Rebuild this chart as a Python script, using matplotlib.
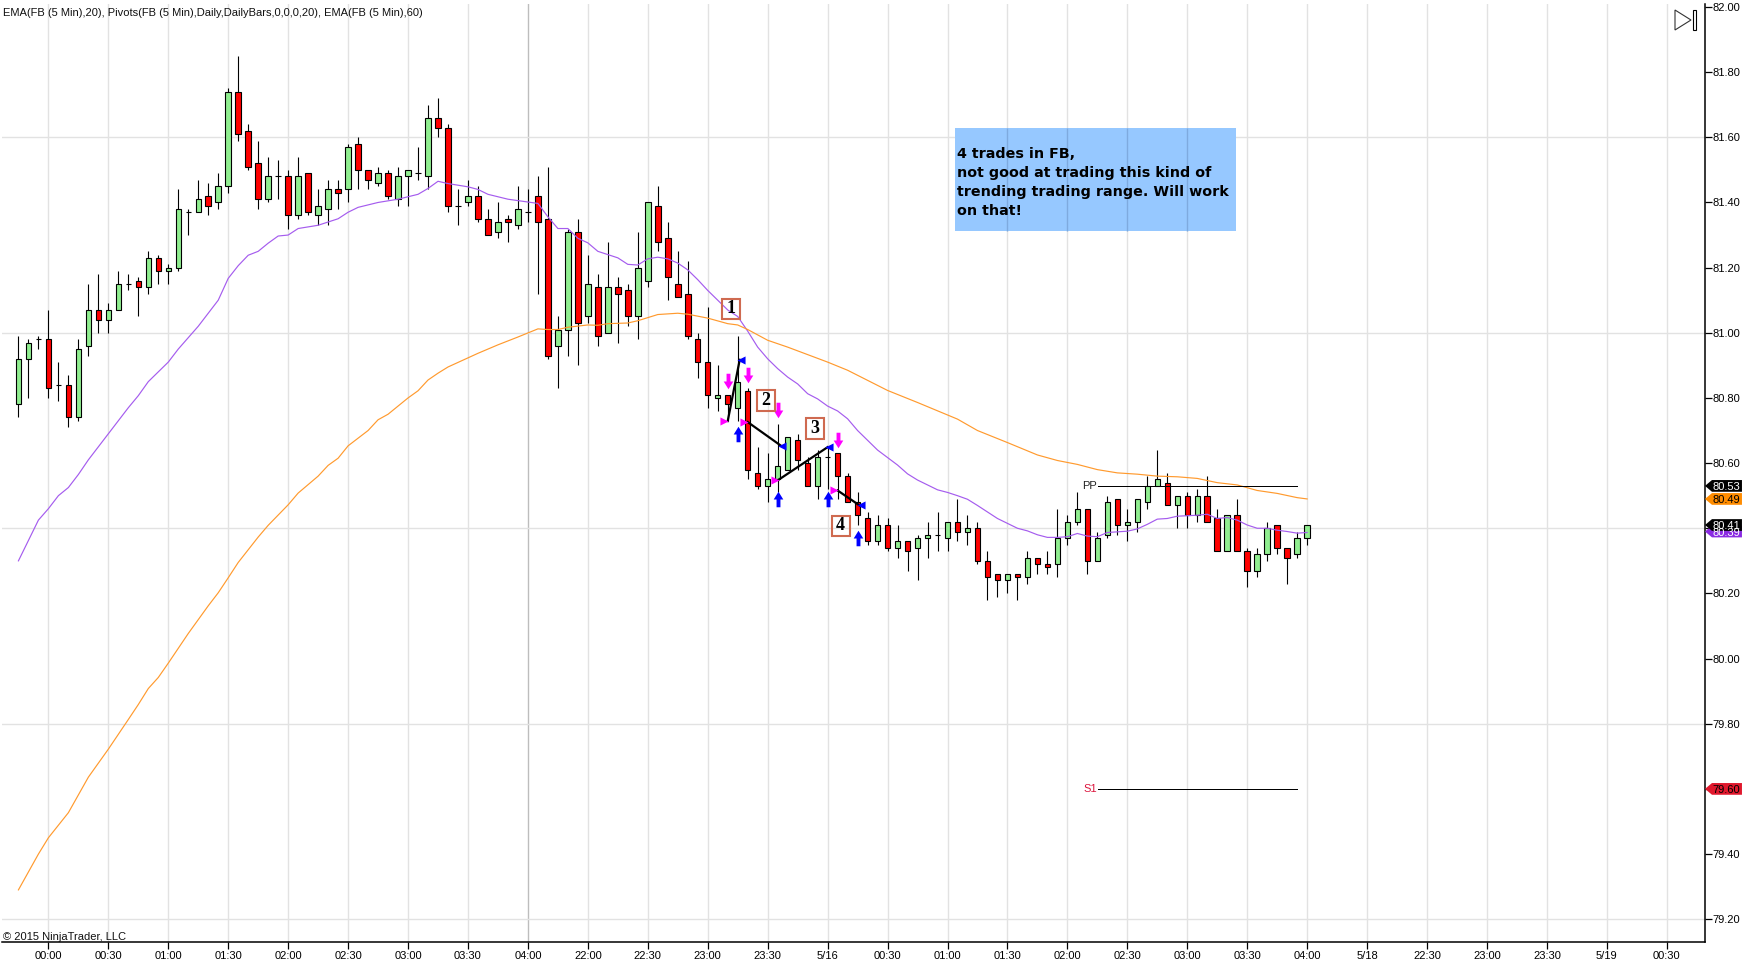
import numpy as np
import matplotlib
matplotlib.use('Agg')
import matplotlib.pyplot as plt
from matplotlib.patches import Polygon, Rectangle
from matplotlib.path import Path
from matplotlib.transforms import blended_transform_factory

plt.rcParams['font.family'] = ['Liberation Sans', 'DejaVu Sans']

# 5 min bars, index 0 is the 00:00 bar
bar_index = np.arange(-3, 127)
opens = [80.78,80.92,80.98,80.98,80.84,80.84,80.74,80.96,81.07,81.04,
         81.07,81.15,81.16,81.14,81.23,81.19,81.20,81.37,81.37,81.42,
         81.40,81.45,81.74,81.62,81.52,81.41,81.48,81.48,81.36,81.49,
         81.36,81.38,81.44,81.44,81.58,81.50,81.46,81.49,81.41,81.48,
         81.49,81.48,81.66,81.63,81.39,81.40,81.42,81.35,81.31,81.35,
         81.33,81.37,81.42,81.35,80.96,81.01,81.31,81.05,81.14,81.00,
         81.14,81.13,81.05,81.16,81.39,81.29,81.15,81.12,80.98,80.91,
         80.80,80.81,80.77,80.82,80.57,80.53,80.55,80.58,80.67,80.60,
         80.53,80.62,80.63,80.56,80.48,80.43,80.36,80.41,80.34,80.36,
         80.34,80.37,80.38,80.37,80.42,80.39,80.40,80.30,80.26,80.24,
         80.26,80.25,80.31,80.29,80.29,80.37,80.42,80.46,80.30,80.38,
         80.49,80.41,80.42,80.48,80.53,80.54,80.47,80.50,80.44,80.50,
         80.43,80.33,80.44,80.33,80.27,80.32,80.41,80.34,80.32,80.37]
highs = [80.99,80.98,80.99,81.07,80.91,80.87,80.98,81.15,81.18,81.09,
         81.19,81.18,81.17,81.25,81.24,81.21,81.44,81.38,81.47,81.46,
         81.49,81.75,81.85,81.64,81.59,81.54,81.53,81.50,81.54,81.49,
         81.44,81.47,81.47,81.58,81.60,81.50,81.51,81.50,81.51,81.50,
         81.57,81.70,81.72,81.64,81.44,81.47,81.45,81.38,81.40,81.36,
         81.45,81.44,81.48,81.51,81.05,81.32,81.35,81.24,81.18,81.28,
         81.17,81.15,81.31,81.40,81.45,81.34,81.25,81.22,81.00,81.08,
         80.90,80.81,80.99,80.83,80.65,80.63,80.72,80.68,80.69,80.62,
         80.64,80.65,80.63,80.57,80.51,80.45,80.44,80.43,80.41,80.36,
         80.38,80.42,80.45,80.42,80.49,80.44,80.42,80.33,80.26,80.26,
         80.26,80.33,80.31,80.33,80.46,80.44,80.51,80.46,80.39,80.50,
         80.49,80.46,80.49,80.56,80.64,80.57,80.50,80.51,80.52,80.56,
         80.46,80.44,80.49,80.34,80.34,80.42,80.41,80.34,80.39,80.41]
lows = [80.74,80.80,80.95,80.80,80.79,80.71,80.73,80.93,81.00,81.00,
        81.07,81.13,81.05,81.12,81.15,81.15,81.19,81.30,81.37,81.36,
        81.38,81.43,81.59,81.50,81.38,81.40,81.41,81.32,81.35,81.36,
        81.33,81.33,81.38,81.40,81.44,81.44,81.45,81.41,81.39,81.39,
        81.47,81.44,81.60,81.37,81.33,81.39,81.34,81.30,81.29,81.28,
        81.32,81.34,81.12,80.92,80.83,80.93,80.90,81.03,80.96,81.00,
        80.97,81.02,80.98,81.14,81.25,81.10,81.11,80.98,80.86,80.77,
        80.76,80.73,80.73,80.55,80.52,80.48,80.51,80.58,80.58,80.53,
        80.49,80.52,80.49,80.48,80.41,80.35,80.35,80.33,80.31,80.27,
        80.24,80.31,80.33,80.33,80.36,80.35,80.29,80.18,80.19,80.20,
        80.18,80.23,80.26,80.26,80.25,80.35,80.41,80.26,80.30,80.37,
        80.38,80.36,80.39,80.46,80.53,80.47,80.40,80.40,80.42,80.42,
        80.33,80.33,80.33,80.22,80.25,80.30,80.32,80.23,80.31,80.35]
closes = [80.92,80.97,80.98,80.83,80.84,80.74,80.95,81.07,81.04,81.07,
          81.15,81.15,81.14,81.23,81.19,81.20,81.38,81.37,81.41,81.39,
          81.45,81.74,81.61,81.51,81.41,81.48,81.48,81.36,81.48,81.37,
          81.39,81.44,81.43,81.57,81.50,81.47,81.49,81.42,81.48,81.50,
          81.49,81.66,81.63,81.39,81.39,81.42,81.35,81.30,81.34,81.34,
          81.38,81.37,81.34,80.93,81.01,81.31,81.03,81.15,80.99,81.14,
          81.12,81.05,81.20,81.40,81.28,81.17,81.11,80.99,80.91,80.81,
          80.81,80.78,80.85,80.58,80.53,80.55,80.59,80.68,80.61,80.53,
          80.62,80.62,80.56,80.48,80.44,80.36,80.41,80.34,80.36,80.33,
          80.37,80.38,80.38,80.42,80.39,80.40,80.30,80.25,80.24,80.26,
          80.25,80.31,80.29,80.28,80.37,80.42,80.46,80.30,80.37,80.48,
          80.41,80.42,80.49,80.53,80.55,80.47,80.50,80.44,80.50,80.42,
          80.33,80.44,80.33,80.27,80.32,80.40,80.34,80.31,80.37,80.41]

ema20_k = [-3,-1,0,1,2,3,4,5,6,7,8,9,10,11,12,13,14,15,16,17,18,19,20,21,22,23,24,25,27,
           29,30,31,33,35,37,38,39,40,42,43,44,46,49,50,51,52,53,54,55,57,58,59,60,
           61,62,63,64,65,66,67,68,69,70,71,72,73,74,75,76,77,78,79,80,81,82,83,84,
           85,86,87,88,89,90,91,92,93,94,95,96,97,98,99,100,101,102,103,104,105,106,
           108,109,110,111,112,113,115,116,117,118,119,120,121,122,123,124,125,126]
ema20_v = [80.30,80.425,80.46,80.50,80.525,80.565,80.61,80.65,80.69,80.73,80.77,80.807,80.85,80.88,80.91,
           80.95,80.985,81.02,81.06,81.10,81.167,81.206,81.238,81.25,81.275,81.297,81.30,
           81.32,81.33,81.35,81.37,81.385,81.40,81.41,81.425,81.443,81.465,81.458,81.448,
           81.44,81.425,81.41,81.397,81.356,81.32,81.32,81.29,81.276,81.25,81.23,81.21,
           81.208,81.227,81.232,81.227,81.214,81.193,81.163,81.13,81.10,81.07,81.05,81.005,
           80.956,80.92,80.89,80.864,80.843,80.813,80.797,80.775,80.76,80.736,80.70,80.67,
           80.64,80.617,80.594,80.567,80.548,80.533,80.518,80.51,80.50,80.489,80.47,80.45,
           80.43,80.415,80.40,80.392,80.38,80.372,80.372,80.374,80.384,80.376,80.374,80.387,
           80.391,80.398,80.412,80.428,80.43,80.437,80.44,80.443,80.43,80.433,80.425,80.41,
           80.40,80.40,80.394,80.39,80.385,80.387]
ema60_k = [-3,-1,0,2,4,6,8,9,10,11,12,14,16,17,18,19,21,22,24,25,27,28,29,30,32,33,34,36,37,
           38,39,40,43,45,47,49,50,51,52,54,55,56,58,59,61,63,64,66,68,69,70,72,74,76,78,
           80,82,84,87,91,93,96,99,101,103,105,107,109,111,113,115,117,119,121,123,125,126]
ema60_v = [79.29,79.40,79.45,79.527,79.636,79.722,79.813,79.859,79.908,79.942,79.986,80.077,
           80.162,80.202,80.248,80.295,80.373,80.409,80.472,80.508,80.56,80.593,80.615,80.653,
           80.70,80.733,80.75,80.80,80.822,80.855,80.876,80.895,80.937,80.963,80.987,81.012,
           81.01,81.01,81.017,81.024,81.023,81.028,81.03,81.037,81.056,81.06,81.057,81.045,
           81.028,81.024,81.01,80.977,80.956,80.933,80.91,80.885,80.854,80.823,80.786,80.735,
           80.70,80.663,80.625,80.608,80.596,80.58,80.57,80.566,80.56,80.558,80.553,80.54,
           80.533,80.516,80.507,80.494,80.49]

# trades: entry and exit of each one
entry_k = [68, 70, 73.1, 79]
entry_p = [80.729, 80.726, 80.549, 80.516]
exit_k = [69.2, 73.3, 78, 81.2]
exit_p = [80.917, 80.654, 80.649, 80.47]
sell_k = [68, 70, 73, 79]
sell_p = [80.851, 80.87, 80.762, 80.67]
buy_k = [69, 73, 78, 81]
buy_p = [80.69, 80.49, 80.49, 80.37]
note_k = [68.3, 71.8, 76.7, 79.3]
note_p = [81.073, 80.792, 80.706, 80.408]
note_labels = ['1', '2', '3', '4']

pivot_start, pivot_end = 105.1, 125
pp = 80.53
s1 = 79.60

x_labels = ['00:00','00:30','01:00','01:30','02:00','02:30','03:00','03:30','04:00',
            '22:00','22:30','23:00','23:30','5/16','00:30','01:00','01:30','02:00',
            '02:30','03:00','03:30','04:00','5/18','22:30','23:00','23:30','5/19','00:30']
y_ticks = [79.2,79.4,79.6,79.8,80.0,80.2,80.4,80.6,80.8,81.0,81.2,81.4,81.6,81.8,82.0]
y_hidden = [79.6, 80.4]
y_grid = [79.2, 79.8, 80.4, 81.0, 81.6]

W, H = 1752, 969
fig = plt.figure(figsize=(W / 100, H / 100), dpi=100, facecolor='white')
ax = fig.add_axes([2 / W, (H - 942) / H, 1703 / W, 938 / H])
ax.set_xlim((2 - 48.4) / 9.99, (1705 - 48.4) / 9.99)
ax.set_ylim(81.6 - (942 - 137.3) / 325.8, 81.6 + (137.3 - 4) / 325.8)

for s in ['left', 'top']:
    ax.spines[s].set_visible(False)
ax.spines['right'].set_linewidth(1.1)
ax.spines['bottom'].set_linewidth(1.1)

x_ticks = np.arange(len(x_labels)) * 6
ax.set_xticks(x_ticks)
ax.set_xticklabels(x_labels)
ax.yaxis.tick_right()
ax.set_yticks(y_ticks)
ax.set_yticklabels(['' if v in y_hidden else '%.2f' % v for v in y_ticks])
ax.tick_params(axis='x', length=5, width=0.9, labelsize=8, pad=1.5)
ax.tick_params(axis='y', length=5, width=0.9, labelsize=8, pad=0.3)

# grid, the 04:00 line is the session break
for k in x_ticks:
    ax.axvline(k, color='#bdbdbd' if k == 48 else '#e2e2e2', lw=1.0, zorder=0)
for v in y_grid:
    ax.axhline(v, color='#e2e2e2', lw=1.0, zorder=0)

# note box, the vertical grid lines show through it
box_left, box_right = 90.75, 118.9
box_bottom, box_top = 81.312, 81.629
ax.add_patch(Rectangle((box_left, box_bottom), box_right - box_left, box_top - box_bottom,
                       fc='#96c8ff', ec='none', zorder=0.5))
inside = x_ticks[(x_ticks > box_left) & (x_ticks < box_right)]
ax.vlines(inside, box_bottom, box_top, color='#7eaadf', lw=1.0, zorder=0.6)

# candles
o = np.array(opens)
c = np.array(closes)
colors = ['#90ee90' if b >= a else '#ff0000' for a, b in zip(o, c)]
ax.vlines(bar_index, lows, highs, color='black', lw=0.8, zorder=2)
ax.bar(bar_index, np.abs(c - o), bottom=np.minimum(o, c), width=0.55, color=colors,
       edgecolor='black', linewidth=0.8, zorder=3)

ax.plot(ema20_k, ema20_v, color='#a55cee', lw=0.85, zorder=4)
ax.plot(ema60_k, ema60_v, color='#ff9a2e', lw=0.85, zorder=4)

# pivots
ax.plot([pivot_start, pivot_end], [pp, pp], color='black', lw=0.72, zorder=4)
ax.plot([pivot_start, pivot_end], [s1, s1], color='black', lw=0.72, zorder=4)
ax.text(pivot_start - 0.1, pp, 'PP', ha='right', va='center', fontsize=8, color='#222222')
ax.text(pivot_start - 0.1, s1, 'S1', ha='right', va='center', fontsize=8, color='#dc143c')

# trade marks
arrow_up = Path([(-0.25, -1), (0.25, -1), (0.25, 0), (0.62, 0), (0, 1), (-0.62, 0), (-0.25, 0), (-0.25, -1)], closed=True)
arrow_down = Path([(x, -y) for x, y in arrow_up.vertices], closed=True)
ax.scatter(sell_k, sell_p, marker=arrow_down, s=125, color='#ff00ff', linewidths=0, zorder=6)
ax.scatter(buy_k, buy_p, marker=arrow_up, s=125, color='#0000ff', linewidths=0, zorder=6)
for a, b, d, e in zip(entry_k, entry_p, exit_k, exit_p):
    ax.plot([a, d], [b, e], color='black', lw=1.6, zorder=6)
ax.scatter(np.array(entry_k) - 0.35, entry_p, marker='>', s=34, color='#ff00ff', linewidths=0, zorder=7)
ax.scatter(np.array(exit_k) + 0.1, exit_p, marker='<', s=34, color='#0000ff', linewidths=0, zorder=7)
for k, p, t in zip(note_k, note_p, note_labels):
    ax.add_patch(Rectangle((k - 0.9, p - 0.031), 1.8, 0.062, fc='none', ec='#cf6a50', lw=1.5, zorder=8))
    ax.text(k, p, t, ha='center', va='center', fontsize=13, fontweight='bold',
            family='Liberation Serif', color='black', zorder=8)

fig.text(957 / W, 1 - 215 / H, '4 trades in FB,\nnot good at trading this kind of\ntrending trading range. Will work\non that!',
         family='DejaVu Sans', fontweight='bold', fontsize=10.3, linespacing=1.445, color='black',
         va='baseline', zorder=6)

# price flags on the axis
flag_tf = blended_transform_factory(ax.transAxes, ax.transData)
flag_prices = [80.39, 80.41, 80.49, 80.53, 79.60]
flag_names = ['80.39', '80.41', '80.49', '80.53', '79.60']
flag_colors = ['#8a2be2', '#000000', '#ff8c00', '#000000', '#e0182d']
flag_text = ['white', 'white', 'black', 'white', 'black']
for p, t, fc, tc in zip(flag_prices, flag_names, flag_colors, flag_text):
    h = 0.018
    pts = [(1.0, p), (1.0041, p + h), (1.0217, p + h), (1.0217, p - h), (1.0041, p - h)]
    ax.add_patch(Polygon(pts, closed=True, transform=flag_tf, fc=fc, ec='none', clip_on=False, zorder=9))
    ax.text(1.0046, p, t, transform=flag_tf, ha='left', va='center_baseline', fontsize=8, color=tc,
            clip_on=False, zorder=10)

ax.set_zorder(1)
ax.patch.set_alpha(0)

fig.text(3 / W, 1 - 12.5 / H, 'EMA(FB (5 Min),20), Pivots(FB (5 Min),Daily,DailyBars,0,0,0,20), EMA(FB (5 Min),60)',
         fontsize=8, va='center', color='#111111')
fig.text(3 / W, 1 - 936.5 / H, '© 2015 NinjaTrader, LLC', fontsize=8, va='center', color='#111111')

# panel button top right
fig.add_artist(Polygon([(1675 / W, 1 - 10 / H), (1691 / W, 1 - 20 / H), (1675 / W, 1 - 30 / H)], closed=True,
                       transform=fig.transFigure, fc='white', ec='#333333', lw=0.8))
fig.add_artist(Rectangle((1692.5 / W, 1 - 30 / H), 3 / W, 20 / H, transform=fig.transFigure,
                         fc='white', ec='black', lw=0.8))

fig.savefig('out.png', dpi=100)
